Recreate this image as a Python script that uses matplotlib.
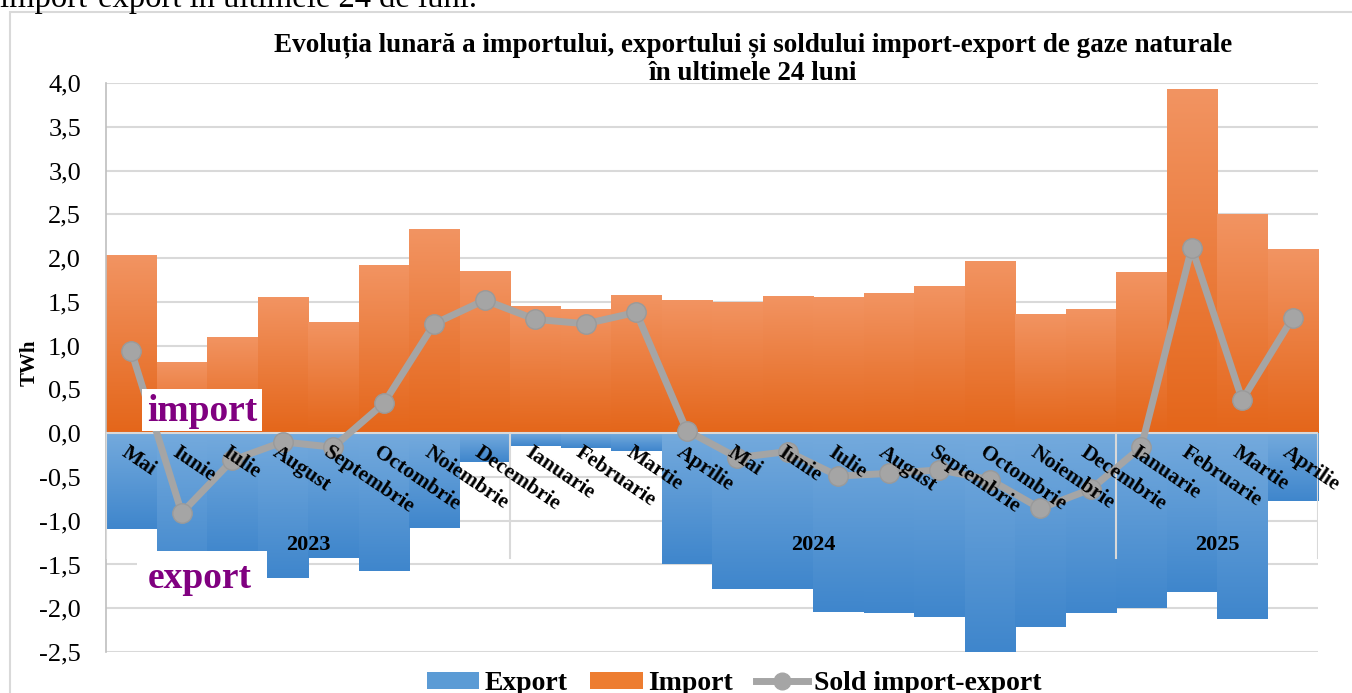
import numpy as np
import matplotlib
matplotlib.use("Agg")
import matplotlib.pyplot as plt
from matplotlib.colors import LinearSegmentedColormap
from matplotlib.patches import Rectangle, Patch
from matplotlib.lines import Line2D

# ---------------- data ----------------
months = ["Mai", "Iunie", "Iulie", "August", "Septembrie", "Octombrie", "Noiembrie", "Decembrie",
          "Ianuarie", "Februarie", "Martie", "Aprilie", "Mai", "Iunie", "Iulie", "August",
          "Septembrie", "Octombrie", "Noiembrie", "Decembrie",
          "Ianuarie", "Februarie", "Martie", "Aprilie"]
years = ["2023", "2024", "2025"]
year_first = [0, 8, 20]
year_last = [7, 19, 23]
import_twh = [2.03, 0.81, 1.10, 1.55, 1.27, 1.92, 2.33, 1.85,
              1.45, 1.42, 1.58, 1.52, 1.50, 1.57, 1.55, 1.60, 1.68, 1.97, 1.36, 1.42,
              1.84, 3.93, 2.50, 2.10]
export_twh = [-1.09, -1.72, -1.41, -1.65, -1.43, -1.58, -1.08, -0.33,
              -0.15, -0.17, -0.20, -1.49, -1.78, -1.78, -2.04, -2.06, -2.10, -2.50, -2.22, -2.06,
              -2.00, -1.81, -2.12, -0.78]
sold_twh = [0.94, -0.91, -0.31, -0.10, -0.16, 0.34, 1.25, 1.52,
            1.30, 1.25, 1.38, 0.03, -0.28, -0.21, -0.49, -0.46, -0.42, -0.53, -0.86, -0.64,
            -0.16, 2.12, 0.38, 1.32]
yticks = [-2.5, -2.0, -1.5, -1.0, -0.5, 0.0, 0.5, 1.0, 1.5, 2.0, 2.5, 3.0, 3.5, 4.0]

plt.rcParams['font.family'] = ['Liberation Serif', 'DejaVu Serif']

W, H = 1352, 693
fig = plt.figure(figsize=(W / 100, H / 100), dpi=100)

# outer chart border and cut-off caption line above
fig.patches.append(Rectangle((10 / W, -0.02), 1.1, 1 - 12 / H + 0.02, transform=fig.transFigure,
                             fill=False, edgecolor='#D9D9D9', lw=1.5))
fig.text(0.0, 1 - 7 / H, "import-export în ultimele 24 de luni.", fontsize=23.5,
         ha='left', va='baseline', color='black')

ax = fig.add_axes([106 / W, 1 - 652 / H, (1318 - 106) / W, (652 - 83) / H])
ax.patch.set_alpha(0)

x = np.arange(len(months))
bars_imp = ax.bar(x, import_twh, width=1.0, color='#ED7D31', zorder=2)
bars_exp = ax.bar(x, export_twh, width=1.0, color='#5B9BD5', zorder=2)

orange_cmap = LinearSegmentedColormap.from_list('o', ['#F29462', '#E4661A'])
blue_cmap = LinearSegmentedColormap.from_list('b', ['#74AADD', '#3F86CC'])
grad = np.linspace(0, 1, 128).reshape(-1, 1)
for bars, cmap in ((bars_imp, orange_cmap), (bars_exp, blue_cmap)):
    for b in bars:
        x0, w = b.get_x(), b.get_width()
        y0, y1 = sorted([b.get_y(), b.get_y() + b.get_height()])
        im = ax.imshow(grad, cmap=cmap, extent=[x0, x0 + w, y0, y1], origin='upper',
                       aspect='auto', zorder=2.1, interpolation='bilinear')
        im.set_clip_path(b)

ax.axhline(0, color='#D9D9D9', lw=1.5, zorder=3)

# year separators
for sep in [-0.5, 7.5, 19.5, 23.5]:
    ax.plot([sep, sep], [0, -1.43], color='#D9D9D9', lw=1.5, zorder=3)

ax.plot(x, sold_twh, color='#A5A5A5', lw=5, marker='o', ms=14,
        mfc='#A5A5A5', mec='#9A9A9A', zorder=5)

# month labels
for i, m in enumerate(months):
    ax.text(i - 0.05, -0.11, m, rotation=-34, rotation_mode='anchor', ha='left', va='top',
            fontsize=15.5, fontweight='bold', zorder=6)
for yr, a, b in zip(years, year_first, year_last):
    ax.text((a + b) / 2, -1.28, yr, ha='center', va='center', fontsize=16,
            fontweight='bold', zorder=6)

# import / export boxes
ax.add_patch(Rectangle((0.21, 0.03), 2.38, 0.47, facecolor='white', edgecolor='none', zorder=7))
ax.text(1.4, 0.25, "import", color='#800080', fontsize=27, fontweight='bold',
        ha='center', va='center', zorder=8)
ax.add_patch(Rectangle((0.11, -1.92), 2.58, 0.57, facecolor='white', edgecolor='none', zorder=7))
ax.text(1.36, -1.66, "export", color='#800080', fontsize=27, fontweight='bold',
        ha='center', va='center', zorder=8)

ax.set_xlim(-0.5, len(months) - 0.5)
ax.set_ylim(-2.5, 4.0)
ax.set_yticks(yticks)
ax.set_yticklabels([f"{v:.1f}".replace('.', ',') for v in yticks])
ax.set_xticks([])
ax.tick_params(axis='y', length=0, labelsize=19, pad=18)
ax.yaxis.grid(True, color='#D9D9D9', lw=1.5, zorder=0)
ax.set_axisbelow(True)
for s in ['top', 'right', 'bottom']:
    ax.spines[s].set_visible(False)
ax.spines['left'].set_color('#BFBFBF')
ax.spines['left'].set_linewidth(1.2)

fig.text(30 / W, 1 - 363 / H, "TWh", rotation=90, ha='center', va='center',
         fontsize=15, fontweight='bold')

fig.text(753 / W, 1 - 45 / H,
         "Evoluția lunară a importului, exportului și soldului import-export de gaze naturale",
         ha='center', va='center', fontsize=19.5, fontweight='bold')
fig.text(753 / W, 1 - 73 / H, "în ultimele 24 luni", ha='center', va='center',
         fontsize=19.5, fontweight='bold')

handles = [Patch(facecolor='#5B9BD5'), Patch(facecolor='#ED7D31'),
           Line2D([0], [0], color='#A5A5A5', lw=5, marker='o', ms=12, mfc='#A5A5A5')]
fig.legend(handles, ["Export", "Import", "Sold import-export"], loc='center',
           bbox_to_anchor=(734 / W, 1 - 684 / H), ncol=3, frameon=False,
           prop={'weight': 'bold', 'size': 20}, handlelength=1.9, handleheight=0.55,
           handletextpad=0.2, columnspacing=0.8)

fig.savefig("out.png", dpi=100)
